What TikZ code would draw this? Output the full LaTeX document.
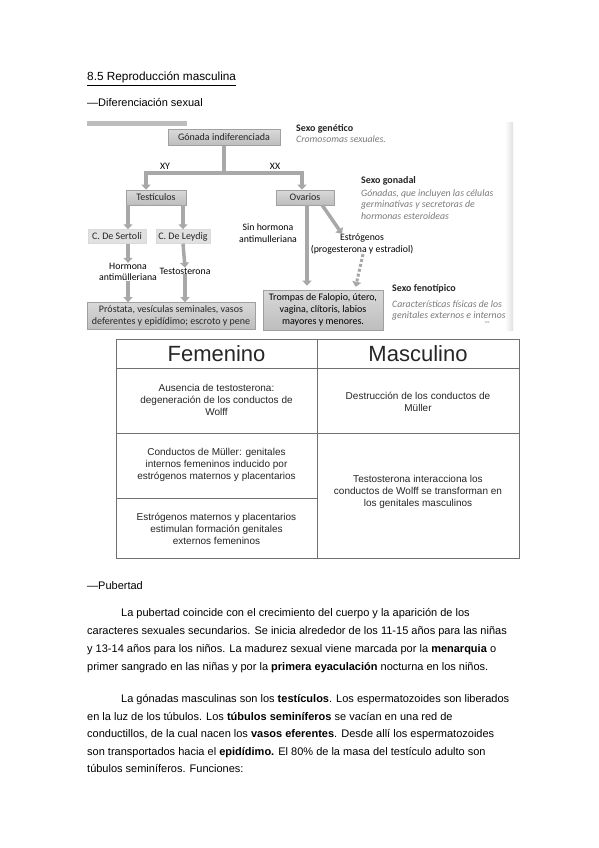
\documentclass[tikz,border=0pt]{standalone}
\usepackage{fontspec}
\setmainfont{Liberation Sans}
\newfontfamily\calibri{Carlito}
\usetikzlibrary{arrows.meta,positioning,calc}
\definecolor{boxgray}{HTML}{BDBDBD}
\definecolor{boxlight}{HTML}{D9D9D9}
\definecolor{boxedge}{HTML}{A0A0A0}
\definecolor{arrowgray}{HTML}{A8A8A8}
\definecolor{notegray}{HTML}{7A7A7A}
\definecolor{inkgray}{HTML}{262626}
\definecolor{rulegray}{HTML}{707070}

\begin{document}
\begin{tikzpicture}[x=1pt,y=-1pt,
  texto/.style={font=\fontsize{11}{13}\selectfont, inner sep=0pt},
  celda/.style={font=\fontsize{10}{12}\selectfont, align=center, text=inkgray, inner sep=0pt},
  cabecera/.style={font=\fontsize{22}{24}\selectfont, text=inkgray, inner sep=0pt},
  caja/.style={draw=boxedge, line width=0.6pt, top color=boxlight, bottom color=boxgray,
    font=\calibri\fontsize{10}{12}\selectfont, text=inkgray, inner sep=0pt, align=center},
  cajaclara/.style={fill=boxlight!80, draw=boxlight, font=\calibri\fontsize{10}{12}\selectfont,
    text=inkgray, inner sep=0pt, align=center},
  etiqueta/.style={font=\calibri\fontsize{9.8}{11.5}\selectfont, text=black, inner sep=0pt, align=center},
  sexo/.style={font=\calibri\bfseries\fontsize{10}{12}\selectfont, text=inkgray, inner sep=0pt, anchor=west},
  nota/.style={font=\calibri\itshape\fontsize{9.8}{11.5}\selectfont, text=notegray, inner sep=0pt,
    anchor=north west, align=left},
  flecha/.style={draw=arrowgray, line width=3.5pt, -{Triangle[width=9pt,length=5pt]}},
  punteada/.style={draw=arrowgray, line width=3pt, dotted, -{Triangle[width=9pt,length=5pt]}}]
  \fill[white] (0,0) rectangle (599,848);
  \useasboundingbox (0,0) rectangle (599,848);

  % encabezados
  \node[texto, font=\fontsize{11.8}{14}\selectfont, anchor=base west] (titulo) at (87,81) {\underline{8.5 Reproducción masculina}};
  \node[texto, anchor=base west] (difsexual) at (87,107) {---Diferenciación sexual};

  % esquema de diferenciacion
  \fill[boxgray] (87,121) rectangle (187,126);
  \shade[left color=white, right color=black!12] (505,123) rectangle (513,330);

  \node[caja, minimum width=112pt, minimum height=16pt] (gonada) at (224,137.5) {Gónada indiferenciada};
  \node[caja, minimum width=60pt, minimum height=15pt] (testiculos) at (156,197.5) {Testículos};
  \node[caja, minimum width=58pt, minimum height=15pt] (ovarios) at (305,197.5) {Ovarios};
  \node[cajaclara, minimum width=58pt, minimum height=14pt] (sertoli) at (117,236.5) {C. De Sertoli};
  \node[cajaclara, minimum width=54pt, minimum height=14pt] (leydig) at (183,236.5) {C. De Leydig};
  \node[caja, minimum width=168pt, minimum height=27pt] (prostata) at (171,316)
    {Próstata, vesículas seminales, vasos\\deferentes y epidídimo; escroto y pene};
  \node[caja, minimum width=120pt, minimum height=40pt, text=black] (trompas) at (323,310)
    {Trompas de Falopio, útero,\\vagina, clítoris, labios\\mayores y menores.};

  \node[etiqueta] (xy) at (165,166) {XY};
  \node[etiqueta] (xx) at (275,166) {XX};
  \node[etiqueta] (hormona) at (128,272) {Hormona\\antimülleriana};
  \node[etiqueta] (testosterona) at (185,271) {Testosterona};
  \node[etiqueta] (sinhormona) at (268,233) {Sin hormona\\antimulleriana};
  \node[etiqueta] (estrogenos) at (362,244) {Estrógenos\\(progesterona y estradiol)};

  \node[sexo] (genetico) at (296,129) {Sexo genético};
  \node[nota] (genetico-nota) at (296,135) {Cromosomas sexuales.};
  \node[sexo] (gonadal) at (361,181) {Sexo gonadal};
  \node[nota] (gonadal-nota) at (361,189) {Gónadas, que incluyen las células\\germinativas y secretoras de\\hormonas esteroideas};
  \node[sexo] (fenotipico) at (392,289) {Sexo fenotípico};
  \node[nota] (fenotipico-nota) at (392,300) {Características físicas de los\\genitales externos e internos};
  \node[font=\calibri\fontsize{3}{3}\selectfont, text=notegray, inner sep=0pt] (pagina) at (487,323) {103};

  \coordinate (split) at (224,173);
  \draw[draw=arrowgray, line width=4.5pt] (gonada.south) -- (split);
  \draw[flecha] (split) -| ([xshift=-10pt]testiculos.north);
  \draw[flecha] (split) -| ([xshift=-3pt]ovarios.north);
  \draw[flecha] ([xshift=-28pt]testiculos.south) -- ([xshift=-28pt]testiculos.south |- sertoli.north);
  \draw[flecha] ([xshift=27pt]testiculos.south) -- (leydig.north);
  \draw[flecha] (sertoli.south -| hormona.north) -- (hormona.north);
  \draw[flecha] (hormona.south) -- (hormona.south |- prostata.north);
  \draw[flecha] (leydig.south) -- (testosterona.north);
  \draw[flecha] (testosterona.south) -- (testosterona.south |- prostata.north);
  \draw[flecha, shorten >=4pt] ([xshift=2pt]ovarios.south) -- ([xshift=2pt]ovarios.south |- trompas.north);
  \draw[flecha] ([xshift=-12pt]ovarios.south east) -- ([xshift=-20pt]estrogenos.north);
  \draw[punteada, shorten >=3pt] ([xshift=1pt]estrogenos.south) -- ([xshift=32pt]trompas.north);

  % tabla femenino / masculino
  \draw[rulegray, line width=0.8pt] (116,339) rectangle (519,558);
  \draw[rulegray, line width=0.8pt] (317,339) -- (317,558);
  \foreach \y in {368,433}{\draw[rulegray, line width=0.8pt] (116,\y) -- (519,\y);}
  \draw[rulegray, line width=0.8pt] (116,498) -- (317,498);
  \node[cabecera] (femenino) at (216.5,354) {Femenino};
  \node[cabecera] (masculino) at (418,354) {Masculino};
  \node[celda] (fem1) at (216.5,400) {Ausencia de testosterona:\\degeneración de los conductos de\\Wolff};
  \node[celda] (fem2) at (216.5,465) {Conductos de Müller: genitales\\internos femeninos inducido por\\estrógenos maternos y placentarios};
  \node[celda] (fem3) at (216.5,529) {Estrógenos maternos y placentarios\\estimulan formación genitales\\externos femeninos};
  \node[celda] (masc1) at (418,402) {Destrucción de los conductos de\\Müller};
  \node[celda] (masc2) at (418,492) {Testosterona interacciona los\\conductos de Wolff se transforman en\\los genitales masculinos};

  % pubertad
  \node[texto, anchor=base west] (pubertad) at (87,589) {---Pubertad};
  \node[texto, anchor=base west] (p1a) at (121,616) {La pubertad coincide con el crecimiento del cuerpo y la aparición de los};
  \node[texto, anchor=base west] (p1b) at (87,634) {caracteres sexuales secundarios. Se inicia alrededor de los 11-15 años para las niñas};
  \node[texto, anchor=base west] (p1c) at (87,652) {y 13-14 años para los niños. La madurez sexual viene marcada por la \textbf{menarquia} o};
  \node[texto, anchor=base west] (p1d) at (87,670) {primer sangrado en las niñas y por la \textbf{primera eyaculación} nocturna en los niños.};
  \node[texto, anchor=base west] (p2a) at (121,702) {La gónadas masculinas son los \textbf{testículos}. Los espermatozoides son liberados};
  \node[texto, anchor=base west] (p2b) at (87,720) {en la luz de los túbulos. Los \textbf{túbulos seminíferos} se vacían en una red de};
  \node[texto, anchor=base west] (p2c) at (87,737) {conductillos, de la cual nacen los \textbf{vasos eferentes}. Desde allí los espermatozoides};
  \node[texto, anchor=base west] (p2d) at (87,755) {son transportados hacia el \textbf{epidídimo.} El 80\% de la masa del testículo adulto son};
  \node[texto, anchor=base west] (p2e) at (87,772) {túbulos seminíferos. Funciones:};
\end{tikzpicture}
\end{document}
